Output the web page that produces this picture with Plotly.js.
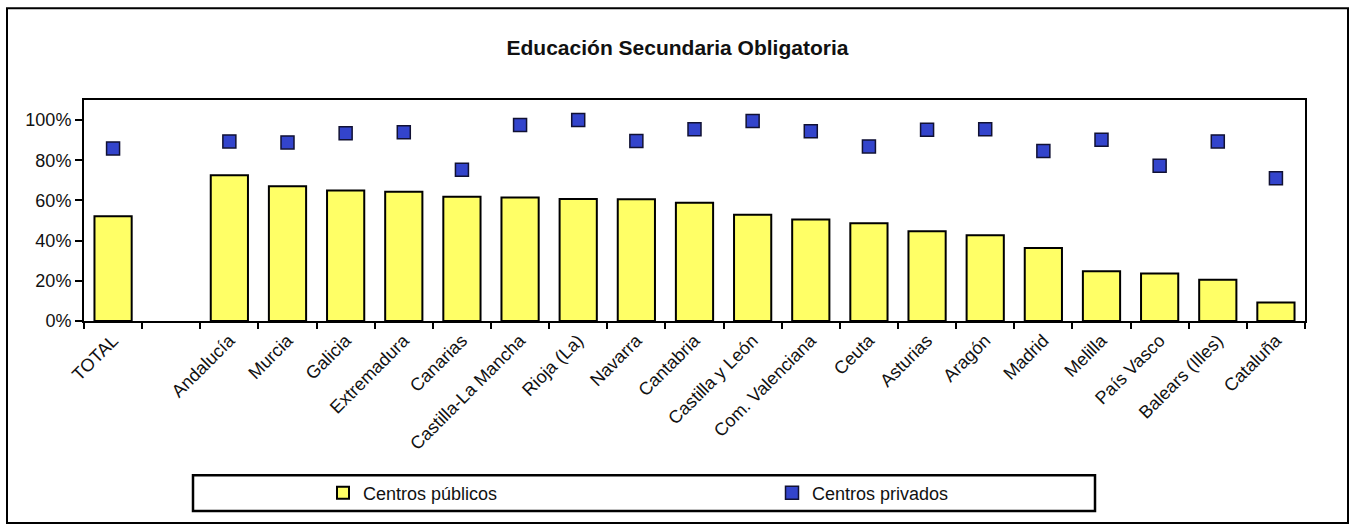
<!DOCTYPE html>
<html>
<head>
<meta charset="utf-8">
<script src="https://cdn.plot.ly/plotly-3.0.1.min.js"></script>
<style>html,body{margin:0;padding:0;background:#fff;}#chart{width:1355px;height:528px;}</style>
</head>
<body>
<div id="chart"></div>
<script>
const categories = ["TOTAL", " ", "Andalucía", "Murcia", "Galicia", "Extremadura", "Canarias",
  "Castilla-La Mancha", "Rioja (La)", "Navarra", "Cantabria", "Castilla y León",
  "Com. Valenciana", "Ceuta", "Asturias", "Aragón", "Madrid", "Melilla",
  "País Vasco", "Balears (Illes)", "Cataluña"];
const centrosPublicos = [0.522, null, 0.726, 0.671, 0.650, 0.643, 0.618,
  0.615, 0.607, 0.606, 0.589, 0.529,
  0.505, 0.486, 0.447, 0.427, 0.363, 0.248,
  0.237, 0.205, 0.092];
const centrosPrivados = [0.859, null, 0.894, 0.889, 0.935, 0.940, 0.753,
  0.975, 1.000, 0.896, 0.954, 0.995,
  0.945, 0.869, 0.952, 0.954, 0.846, 0.902,
  0.773, 0.894, 0.710];
const yTickValues = [0, 0.2, 0.4, 0.6, 0.8, 1.0];

const FONT = "Liberation Sans, Arial, sans-serif";
const L = 84, R = 1305, T = 100, B = 321.5, W = 1355, H = 528;
const px = x => (x - L) / (R - L);
const py = y => (B - y) / (B - T);

const traces = [
  {
    type: "bar", name: "Centros públicos", x: categories, y: centrosPublicos,
    width: 0.64,
    marker: {color: "#FFFF66", line: {color: "#000000", width: 2}},
    hoverinfo: "x+y"
  },
  {
    type: "scatter", mode: "markers", name: "Centros privados", x: categories, y: centrosPrivados,
    marker: {symbol: "square", size: 13, color: "#3344CC", line: {color: "#111133", width: 1.5}},
    hoverinfo: "x+y"
  }
];

const layout = {
  width: W, height: H,
  margin: {l: L, r: W - R, t: T, b: H - B, pad: 0},
  paper_bgcolor: "#ffffff", plot_bgcolor: "#ffffff",
  font: {family: FONT, size: 18, color: "#000000"},
  title: {text: "<b>Educación Secundaria Obligatoria</b>", font: {family: FONT, size: 21, color: "#111"},
    x: 0.5, xref: "container", y: 1 - 48 / H, yref: "container", xanchor: "center", yanchor: "middle"},
  showlegend: true,
  legend: {orientation: "h", x: px(323), xanchor: "left", y: py(494), yanchor: "middle",
    entrywidth: 404, entrywidthmode: "pixels", bgcolor: "rgba(0,0,0,0)", borderwidth: 0,
    font: {family: FONT, size: 18, color: "#111"}, itemwidth: 30},
  xaxis: {
    type: "category", categoryorder: "array", categoryarray: categories,
    range: [-0.5, categories.length - 0.5],
    tickson: "boundaries", ticks: "outside", ticklen: 6, tickwidth: 2, tickcolor: "#000",
    tickangle: -45, tickfont: {family: FONT, size: 18, color: "#111"},
    showline: true, linecolor: "#000", linewidth: 2, mirror: true,
    showgrid: false, zeroline: false, fixedrange: true
  },
  yaxis: {
    range: [0, 1.1], tickvals: yTickValues, tickformat: ".0%",
    ticks: "outside", ticklen: 7, tickwidth: 2, tickcolor: "#000",
    tickfont: {family: FONT, size: 18, color: "#111"},
    showline: true, linecolor: "#000", linewidth: 2, mirror: true,
    showgrid: false, zeroline: false, fixedrange: true
  },
  bargap: 0.36,
  shapes: [
    {type: "rect", xref: "paper", yref: "paper", x0: px(7), x1: px(1348), y0: py(524), y1: py(8),
      line: {color: "#000", width: 2}, fillcolor: "rgba(0,0,0,0)", layer: "below"},
    {type: "rect", xref: "paper", yref: "paper", x0: px(193), x1: px(1095), y0: py(512), y1: py(476),
      line: {color: "#000", width: 2.5}, fillcolor: "rgba(0,0,0,0)", layer: "below"}
  ]
};

Plotly.newPlot("chart", traces, layout, {displayModeBar: false, staticPlot: true});
</script>
</body>
</html>
